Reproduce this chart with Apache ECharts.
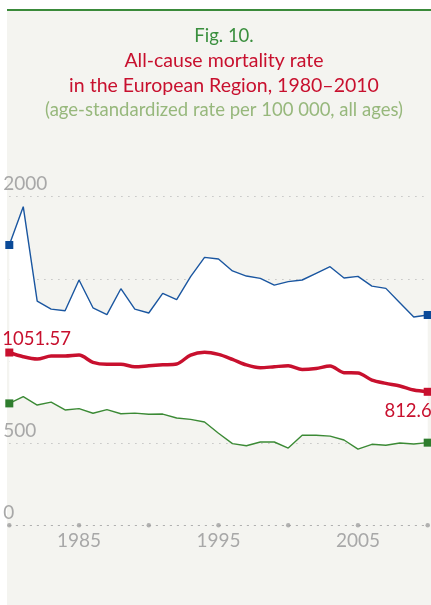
<!DOCTYPE html>
<html>
<head>
<meta charset="utf-8">
<script src="https://cdn.jsdelivr.net/npm/echarts@6/dist/echarts.min.js"></script>
<style>
  html, body { margin: 0; padding: 0; background: #fff; }
  #panel { position: absolute; left: 7px; top: 9px; width: 424px; height: 596px; background: #f4f4f0; border-top: 2px solid #3a8a3a; box-sizing: border-box; }
  #chart { position: absolute; left: 0; top: 0; width: 431px; height: 605px; }
</style>
</head>
<body>
<div id="panel"></div>
<div id="chart"></div>
<script>
// years 1980 - 2010
const years = ['1980', '1981', '1982', '1983', '1984', '1985', '1986', '1987', '1988', '1989', '1990',
  '1991', '1992', '1993', '1994', '1995', '1996', '1997', '1998', '1999', '2000',
  '2001', '2002', '2003', '2004', '2005', '2006', '2007', '2008', '2009', '2010']

// highest country rate (blue)
const highValues = [1706, 1939, 1365, 1316, 1306, 1493, 1324, 1282, 1440, 1316, 1292,
  1412, 1373, 1513, 1631, 1621, 1548, 1517, 1503, 1462, 1483,
  1493, 1534, 1574, 1505, 1515, 1456, 1442, 1355, 1268, 1280]

// European Region average (red)
const regionValues = [1051.57, 1026, 1012, 1030, 1030, 1036, 992, 980, 980, 965, 971,
  977, 982, 1036, 1053, 1040, 1010, 976, 959, 965, 971,
  949, 955, 969, 929, 927, 884, 864, 848, 823, 812.6]

// lowest country rate (green)
const lowValues = [742, 783, 732, 750, 702, 710, 682, 704, 679, 683, 676,
  677, 653, 645, 629, 560, 497, 484, 507, 507, 470,
  548, 548, 543, 519, 464, 493, 487, 501, 495, 503]

const tickYears = ['1980', '1985', '1990', '1995', '2000', '2005', '2010']
const xLabels = ['1985', '1995', '2005']
const yLabels = [0, 500, 2000]

const RED = '#c8102e'
const BLUE = '#1a56a0'
const GREEN = '#3b8a35'
const GREY = '#a8a8a8'
const FONT = 'Lato, "Noto Sans", sans-serif'

// first and last points get a square marker
function withEnds(vals, color, size, labels) {
  return vals.map((v, i) => {
    const item = { value: v }
    if (i === 0 || i === vals.length - 1) {
      item.symbol = 'rect'
      item.symbolSize = size
      item.itemStyle = { color: color }
      if (labels && labels[i === 0 ? 0 : 1]) item.label = labels[i === 0 ? 0 : 1]
    }
    return item
  })
}

const chart = echarts.init(document.getElementById('chart'))

chart.setOption({
  backgroundColor: 'transparent',
  animation: false,
  title: {
    left: 219,
    top: 19,
    textAlign: 'center',
    text: '{a|Fig. 10.}\n{b|All-cause mortality rate}\n{b|in the European Region, 1980\u20132010}\n{c|(age-standardized rate per 100 000, all ages)}',
    textStyle: {
      fontFamily: FONT,
      fontWeight: 'normal',
      rich: {
        a: { color: '#3a8f3e', fontSize: 18.5, fontWeight: 'normal', fontFamily: FONT, lineHeight: 24.5, align: 'center' },
        b: { color: RED, fontSize: 19.5, fontWeight: 'normal', fontFamily: FONT, lineHeight: 24.5, align: 'center' },
        c: { color: '#97b87c', fontSize: 18.5, fontWeight: 'normal', fontFamily: FONT, lineHeight: 24.5, align: 'center' }
      }
    }
  },
  grid: {
    left: 9.3,
    right: 3.3,
    top: 196.7,
    bottom: 79.7
  },
  xAxis: {
    type: 'category',
    data: years,
    boundaryGap: false,
    axisLine: { show: true, lineStyle: { color: '#b0b0b0', width: 1.2, type: [1.2, 5.8] } },
    axisTick: { show: false },
    splitLine: { show: false },
    axisLabel: {
      interval: 0,
      color: GREY,
      fontFamily: FONT,
      fontSize: 19,
      margin: 6,
      formatter: v => (xLabels.indexOf(v) >= 0 ? v : '')
    }
  },
  yAxis: {
    type: 'value',
    min: 0,
    max: 2000,
    interval: 500,
    axisLine: { show: false },
    axisTick: { show: false },
    splitLine: { show: true, lineStyle: { color: '#b8b8b8', width: 1.2, type: [1.2, 5.8] } },
    axisLabel: {
      inside: true,
      margin: -6,
      verticalAlign: 'bottom',
      padding: [0, 0, 3, 0],
      color: GREY,
      fontFamily: FONT,
      fontSize: 19,
      formatter: v => (yLabels.indexOf(v) >= 0 ? String(v) : '')
    }
  },
  series: [
    {
      name: 'bandBase',
      type: 'line',
      stack: 'band',
      silent: true,
      symbol: 'none',
      lineStyle: { opacity: 0 },
      data: lowValues,
      z: 1
    },
    {
      name: 'band',
      type: 'line',
      stack: 'band',
      silent: true,
      symbol: 'none',
      lineStyle: { opacity: 0 },
      areaStyle: { color: '#ffffff', opacity: 1 },
      data: highValues.map((v, i) => v - lowValues[i]),
      z: 1
    },
    {
      name: 'tickDots',
      type: 'scatter',
      silent: true,
      symbolSize: 4.5,
      itemStyle: { color: '#a0a0a0' },
      data: tickYears.map(y => [y, 0]),
      z: 3
    },
    {
      name: 'Highest',
      type: 'line',
      symbol: 'none',
      lineStyle: { color: BLUE, width: 1.4 },
      data: withEnds(highValues, '#0b4a98', 8),
      z: 4
    },
    {
      name: 'Lowest',
      type: 'line',
      symbol: 'none',
      lineStyle: { color: GREEN, width: 1.4 },
      data: withEnds(lowValues, '#2e7d2e', 8),
      z: 4
    },
    {
      name: 'European Region',
      type: 'line',
      symbol: 'none',
      smooth: 0.3,
      lineStyle: { color: RED, width: 3.5 },
      data: withEnds(regionValues, RED, 8, [
        { show: true, position: 'top', align: 'left', offset: [-7, 0], distance: 0,
          color: RED, fontFamily: FONT, fontSize: 18.5, formatter: p => String(p.value) },
        { show: true, position: 'bottom', align: 'right', offset: [4, 0], distance: 6,
          color: RED, fontFamily: FONT, fontSize: 18.5, formatter: p => String(p.value) }
      ]),
      z: 5
    }
  ]
})
</script>
</body>
</html>
